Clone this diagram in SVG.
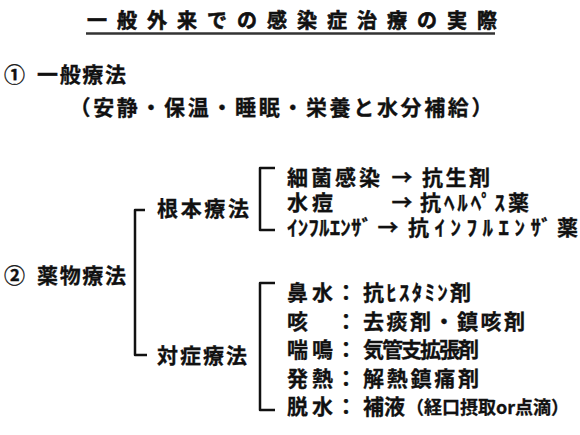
<svg xmlns="http://www.w3.org/2000/svg" width="580" height="435" viewBox="0 0 580 435">
<style>
text{font-family:"Noto Sans CJK JP","Noto Sans",sans-serif;font-weight:bold;font-size:21px;fill:#111;stroke:#111;stroke-width:0.3}
.title{font-size:20px;stroke-width:0.6}
.small{font-size:18px}
.mid{text-anchor:middle}
.br{fill:none;stroke:#111;stroke-width:2.5;stroke-linejoin:round}
</style>
<rect width="580" height="435" fill="#fff"/>
<g id="title">
<text class="title" x="87" y="28" textLength="410" lengthAdjust="spacing">一般外来での感染症治療の実際</text>
<line x1="86" y1="33.5" x2="495" y2="33.5" stroke="#333" stroke-width="2.5"/>
</g>
<g id="general">
<text x="4" y="82">①</text>
<text x="37" y="82" textLength="89" lengthAdjust="spacing">一般療法</text>
<text x="69.5" y="115" textLength="423" lengthAdjust="spacing">（安静・保温・睡眠・栄養と水分補給）</text>
</g>
<g id="drug">
<text x="4" y="283">②</text>
<text x="37" y="283" textLength="89" lengthAdjust="spacing">薬物療法</text>
</g>
<g id="root">
<text x="157" y="215.5" textLength="92" lengthAdjust="spacing">根本療法</text>
</g>
<g id="root-items">
<text x="287" y="185" textLength="93" lengthAdjust="spacing">細菌感染</text>
<text class="mid" x="402" y="185">→</text>
<text x="422" y="185" textLength="68" lengthAdjust="spacing">抗生剤</text>
<text x="287" y="210" textLength="46" lengthAdjust="spacing">水痘</text>
<text class="mid" x="402" y="210">→</text>
<text x="420" y="210" textLength="109" lengthAdjust="spacing">抗ﾍﾙﾍﾟｽ薬</text>
<text x="287" y="235" textLength="85" lengthAdjust="spacing">ｲﾝﾌﾙｴﾝｻﾞ</text>
<text class="mid" x="388" y="235">→</text>
<text x="408" y="235" textLength="170" lengthAdjust="spacing">抗ｲﾝﾌﾙｴﾝｻﾞ薬</text>
</g>
<g id="symptomatic">
<text x="157" y="362.5" textLength="90" lengthAdjust="spacing">対症療法</text>
</g>
<g id="symptomatic-items">
<text x="287" y="300" textLength="46" lengthAdjust="spacing">鼻水</text>
<text class="mid" x="346" y="300">：</text>
<text x="363" y="300" textLength="108" lengthAdjust="spacing">抗ﾋｽﾀﾐﾝ剤</text>
<text x="287" y="328.5">咳</text>
<text class="mid" x="346" y="328.5">：</text>
<text x="363" y="328.5" textLength="162" lengthAdjust="spacing">去痰剤・鎮咳剤</text>
<text x="287" y="357" textLength="46" lengthAdjust="spacing">喘鳴</text>
<text class="mid" x="346" y="357">：</text>
<text x="363" y="357" textLength="116" lengthAdjust="spacing">気管支拡張剤</text>
<text x="287" y="385.5" textLength="46" lengthAdjust="spacing">発熱</text>
<text class="mid" x="346" y="385.5">：</text>
<text x="363" y="385.5" textLength="116" lengthAdjust="spacing">解熱鎮痛剤</text>
<text x="287" y="414" textLength="46" lengthAdjust="spacing">脱水</text>
<text class="mid" x="346" y="414">：</text>
<text x="363" y="414" textLength="42" lengthAdjust="spacing">補液</text>
<text class="small" x="406" y="413.5" textLength="163" lengthAdjust="spacing">（経口摂取or点滴）</text>
</g>
<g id="connectors">
<path class="br" d="M145,210 H135 V355 H147"/>
<path class="br" d="M275,168 H260 V230 H275"/>
<path class="br" d="M275,283 H260 V410 H275"/>
</g>
</svg>
